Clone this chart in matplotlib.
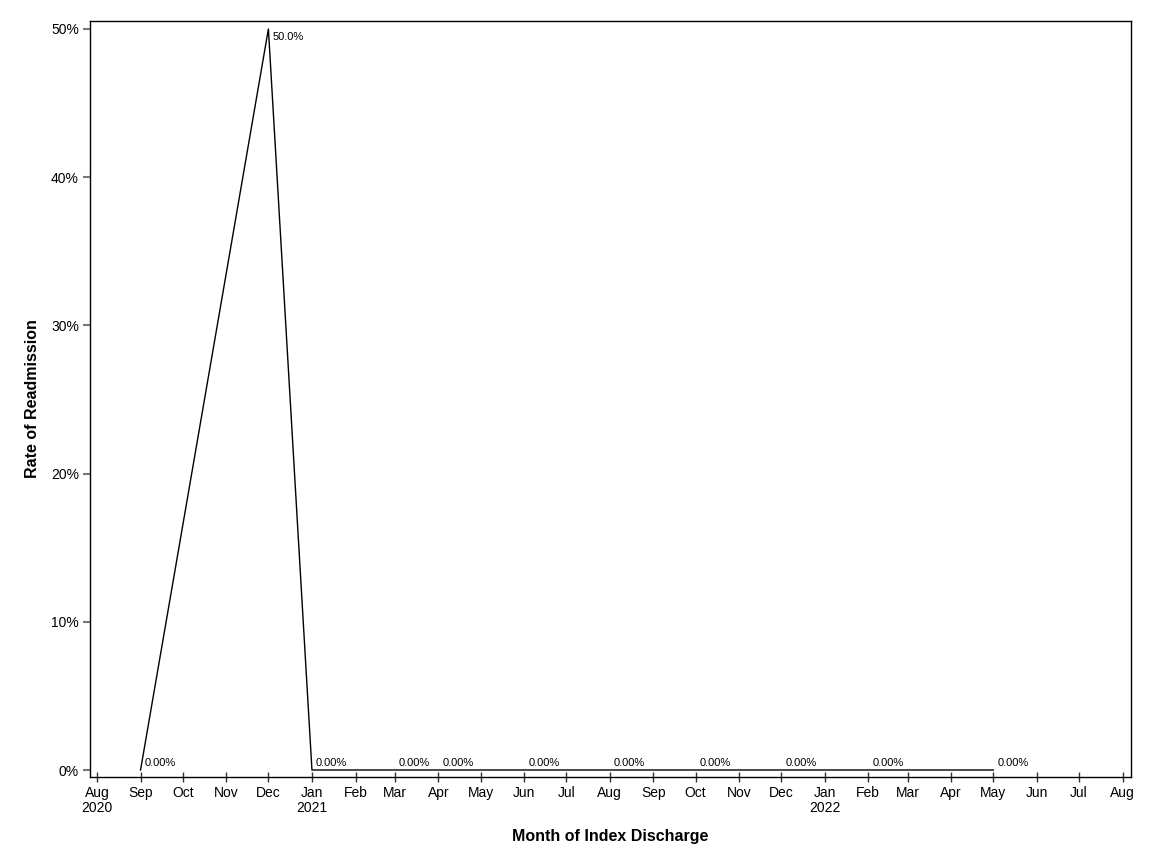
import numpy as np
import pandas as pd
import matplotlib
matplotlib.use("Agg")
import matplotlib.pyplot as plt
import matplotlib.dates as mdates
from matplotlib.ticker import FuncFormatter

plt.rcParams['font.family'] = ['Liberation Sans', 'DejaVu Sans']

# data
months = ["2020-09-01", "2020-12-01", "2021-01-01", "2021-03-01", "2021-04-01",
          "2021-06-01", "2021-08-01", "2021-10-01", "2021-12-01", "2022-02-01",
          "2022-05-01"]
rates = [0.0, 0.50, 0.0, 0.0, 0.0, 0.0, 0.0, 0.0, 0.0, 0.0, 0.0]
point_labels = ["0.00%", "50.0%", "0.00%", "0.00%", "0.00%", "0.00%", "0.00%",
                "0.00%", "0.00%", "0.00%", "0.00%"]
tick_months = pd.date_range("2020-08-01", "2022-08-01", freq="MS")

dates = pd.to_datetime(months)

fig = plt.figure(figsize=(11.52, 8.64), dpi=100)
ax = fig.add_axes([0.0781, 0.1007, 0.9037, 0.875])

ax.plot(dates, rates, color="black", lw=1.0)

for d, r, lab in zip(dates, rates, point_labels):
    if r > 0.25:
        ax.annotate(lab, (d, r), xytext=(3, -2), textcoords="offset points",
                    ha="left", va="top", fontsize=8)
    else:
        ax.annotate(lab, (d, r), xytext=(3, 1.5), textcoords="offset points",
                    ha="left", va="bottom", fontsize=8)

ax.set_xlim(pd.Timestamp("2020-07-27"), pd.Timestamp("2022-08-07"))
ax.set_ylim(-0.00472, 0.5054)

ax.set_xticks(tick_months)
xlabs = []
for i, t in enumerate(tick_months):
    if i == 0 or t.month == 1:
        xlabs.append(t.strftime("%b") + "\n" + str(t.year))
    else:
        xlabs.append(t.strftime("%b"))
ax.set_xticklabels(xlabs, fontsize=10, va="top", linespacing=1.05)
ax.tick_params(axis="x", direction="inout", length=6.5, width=1, color="#333333", pad=3.5)

ax.set_yticks([0, 0.1, 0.2, 0.3, 0.4, 0.5])
ax.yaxis.set_major_formatter(FuncFormatter(lambda v, p: "%d%%" % round(v * 100)))
ax.tick_params(axis="y", direction="out", length=5, width=1.5, color="#777777", labelsize=10, pad=3)

for s in ax.spines.values():
    s.set_linewidth(1)
    s.set_color("black")

ax.set_xlabel("Month of Index Discharge", fontsize=11.5, fontweight="bold", labelpad=10)
ax.set_ylabel("Rate of Readmission", fontsize=11.5, fontweight="bold", labelpad=8)

fig.savefig("out.png", dpi=100)
